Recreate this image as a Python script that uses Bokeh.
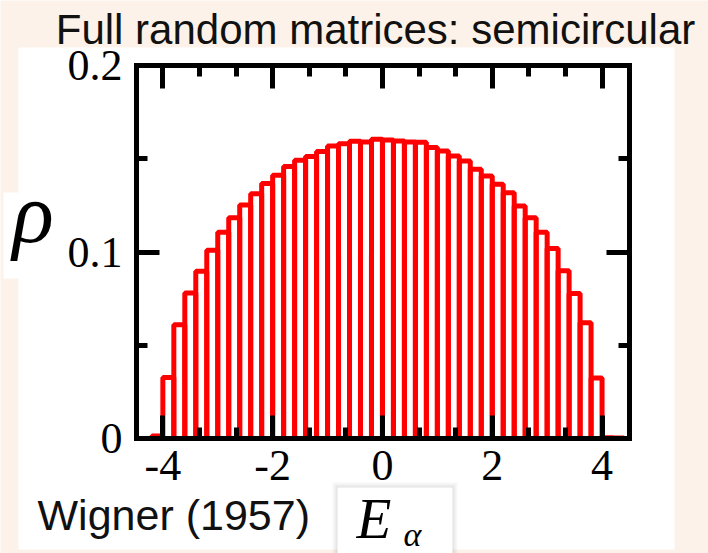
from bokeh.plotting import figure
from bokeh.models import (Range1d, FixedTicker, LinearAxis, CustomJSTickFormatter,
                          BoxAnnotation, Label, ColumnDataSource)
from bokeh.embed import file_html
from bokeh.resources import INLINE

# Eigenvalue density histogram, bins of width 0.2 starting at -4.2
first_edge = -4.2
bin_width = 0.2
density = [
    0.0013,
    0.0327, 0.0610, 0.0780, 0.0897, 0.1010, 0.1106, 0.1184, 0.1252, 0.1313, 0.1367,
    0.1411, 0.1458, 0.1492, 0.1512, 0.1539, 0.1569, 0.1580, 0.1594, 0.1590, 0.1605,
    0.1600, 0.1595, 0.1590, 0.1588, 0.1560, 0.1542, 0.1515, 0.1488, 0.1444, 0.1408,
    0.1363, 0.1318, 0.1246, 0.1184, 0.1106, 0.1019, 0.0900, 0.0777, 0.0621, 0.0325,
    0.0004, 0.0003,
]

x_major = [-4, -2, 0, 2, 4]
x_minor = [-3.333, -2.667, -1.333, -0.667, 0.667, 1.333, 2.667, 3.333]
y_major = [0.0, 0.1, 0.2]
y_minor = [0.05, 0.15]

title_text = "Full random matrices: semicircular"
source_text = "Wigner (1957)"

PEACH = "#fcf2e9"
W, H = 708, 553
# box of the axes, in canvas pixels, and the data limits it spans
FL, FT, FR, FB = 136, 65, 629, 438
X0, X1 = -4.48, 4.5
Y0, Y1 = 0.0, 0.2


def cx(px):
    return X0 + (px - FL) * (X1 - X0) / (FR - FL)


def cy(py):
    return Y0 + (FB - py) * (Y1 - Y0) / (FB - FT)


lefts = [first_edge + i * bin_width for i in range(len(density))]
rights = [l + bin_width for l in lefts]
src = ColumnDataSource(dict(left=lefts, right=rights, top=density, bottom=[0.0] * len(density)))

# the frame fills the whole canvas; the axes sit at fixed data positions
p = figure(width=W, height=H, output_backend="svg", toolbar_location=None,
           x_range=Range1d(cx(0), cx(W)), y_range=Range1d(cy(H), cy(0)),
           x_axis_location=None, y_axis_location=None,
           min_border=0)
p.border_fill_color = PEACH
p.background_fill_color = PEACH
p.outline_line_color = None
p.xgrid.visible = False
p.ygrid.visible = False

# white panels behind the chart and the labels
for (l, r, t, b, c, a) in [
    (18, 674, 47, 549, "white", 1.0),
    (3, 20, 192, 278, "white", 1.0),
    (332, 457, 482, 570, "#000000", 0.03),
    (334, 455, 484, 570, "#000000", 0.04),
    (336, 453, 486, 570, "#000000", 0.05),
    (337, 452, 487, 570, "white", 1.0),
]:
    p.add_layout(BoxAnnotation(left=cx(l), right=cx(r), top=cy(t), bottom=cy(b),
                               fill_color=c, fill_alpha=a, line_color=None,
                               level="underlay"))

# axes box
p.quad(left=[X0], right=[X1], bottom=[Y0], top=[Y1], fill_color=None,
       line_color="black", line_width=5, line_join="miter")

p.quad(left="left", right="right", top="top", bottom="bottom", source=src,
       fill_color=None, line_color="#ff0000", line_width=5)

xt = FixedTicker(ticks=x_major, minor_ticks=x_minor)
yt = FixedTicker(ticks=y_major, minor_ticks=y_minor)
blank = CustomJSTickFormatter(code="return ''")

bottom_ax = LinearAxis(ticker=xt, fixed_location=Y0, bounds=(X0, X1),
                       formatter=CustomJSTickFormatter(code="return tick.toFixed(0)"))
left_ax = LinearAxis(ticker=yt, fixed_location=X0, bounds=(Y0, Y1),
                     formatter=CustomJSTickFormatter(code="return tick == 0 ? '0' : tick.toFixed(1)"))
top_ax = LinearAxis(ticker=xt, fixed_location=Y1, bounds=(X0, X1), formatter=blank)
right_ax = LinearAxis(ticker=yt, fixed_location=X1, bounds=(Y0, Y1), formatter=blank)
p.add_layout(bottom_ax, "below")
p.add_layout(left_ax, "left")
p.add_layout(top_ax, "above")
p.add_layout(right_ax, "right")

for ax in [bottom_ax, left_ax, top_ax, right_ax]:
    ax.axis_line_color = "black"
    ax.axis_line_width = 5
    ax.major_tick_line_color = "black"
    ax.minor_tick_line_color = "black"
    ax.major_tick_line_width = 5
    ax.minor_tick_line_width = 5
    ax.major_tick_in = 23
    ax.major_tick_out = 0
    ax.minor_tick_in = 11
    ax.minor_tick_out = 0
    ax.major_label_text_font = "Liberation Serif"
    ax.major_label_text_font_size = "44px"
    ax.major_label_text_color = "black"

bottom_ax.major_label_standoff = 12
left_ax.major_label_standoff = 14


def text_label(px, baseline_py, text, font, size, italic=False, align="left", color="black"):
    # place the text so that its baseline lands on the given canvas row
    return Label(x=cx(px), y=cy(baseline_py - 0.32 * size), text=text,
                 text_align=align, text_baseline="alphabetic", text_font=font,
                 text_font_style="italic" if italic else "normal",
                 text_font_size=f"{size}px", text_color=color)


labels = [
    text_label(375, 42, title_text, "Liberation Sans", 42, align="center", color="#111111"),
    text_label(37, 528, source_text, "Liberation Sans", 43, color="#111111"),
    text_label(12, 240, "ρ", "Liberation Serif", 86, italic=True),
    text_label(356, 536, "E", "Liberation Serif", 57, italic=True),
    text_label(403, 545, "α", "Liberation Serif", 34, italic=True),
]
for lab in labels:
    p.add_layout(lab)

open("out.html", "w").write(file_html(p, INLINE))
